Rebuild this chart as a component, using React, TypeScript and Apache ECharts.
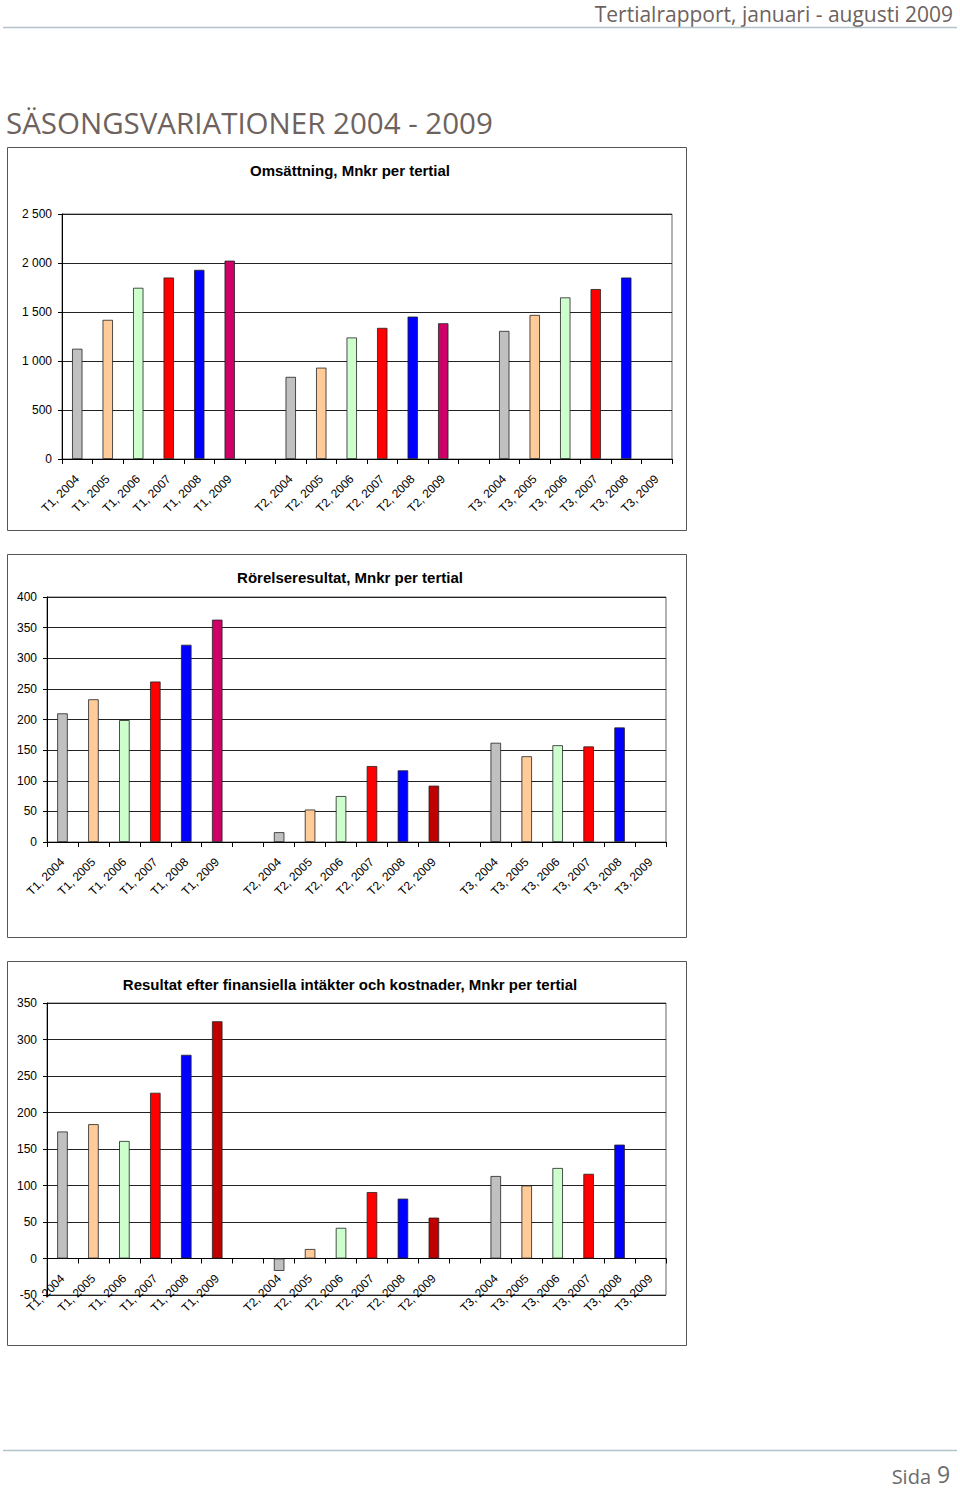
import React, { useEffect, useRef } from 'react';
import * as echarts from 'echarts';

const years = ['2004', '2005', '2006', '2007', '2008', '2009'];
const tertials = ['T1', 'T2', 'T3'];

// Omsättning, Mnkr per tertial
const omsT1 = [1125, 1420, 1747, 1852, 1930, 2024];
const omsT2 = [838, 932, 1240, 1338, 1453, 1385];
const omsT3 = [1307, 1470, 1649, 1734, 1852, null];

// Rörelseresultat, Mnkr per tertial
const rorT1 = [210, 233, 199, 262, 322, 363];
const rorT2 = [16, 53, 75, 124, 117, 92];
const rorT3 = [162, 140, 158, 156, 187, null];

// Resultat efter finansiella intäkter och kostnader, Mnkr per tertial
const resT1 = [174, 184, 161, 227, 279, 325];
const resT2 = [-17, 13, 42, 91, 82, 56];
const resT3 = [113, 100, 124, 116, 156, null];

const yearColors = ['#c0c0c0', '#ffcc99', '#ccffcc', '#ff0000', '#0000ff'];
const oms2009Colors = ['#cc0066', '#cc0066', '#cc0066'];
const ror2009Colors = ['#cc0066', '#c00000', '#c00000'];
const res2009Colors = ['#c00000', '#c00000', '#c00000'];

const chartTitles = [
  'Omsättning, Mnkr per tertial',
  'Rörelseresultat, Mnkr per tertial',
  'Resultat efter finansiella intäkter och kostnader, Mnkr per tertial',
];

const categories: string[] = [];
tertials.forEach((t, ti) => {
  years.forEach((y) => categories.push(`${t}, ${y}`));
  if (ti < tertials.length - 1) categories.push('');
});

function buildData(groups: (number | null)[][], c2009: string[]) {
  const out: any[] = [];
  groups.forEach((g, ti) => {
    g.forEach((v, yi) => {
      const color = yi < 5 ? yearColors[yi] : c2009[ti];
      out.push({ value: v === null ? '-' : v, itemStyle: { color } });
    });
    if (ti < groups.length - 1) out.push({ value: '-' });
  });
  return out;
}

const FONT = '"Liberation Sans Narrow", "Liberation Sans", Arial, sans-serif';
const HFONT = '"Open Sans", "DejaVu Sans", sans-serif';

function fmtThousands(v: number) {
  if (Math.abs(v) >= 1000) {
    const th = Math.floor(v / 1000);
    const rest = String(v % 1000).padStart(3, '0');
    return `${th} ${rest}`;
  }
  return String(v);
}

export default function App() {
  const ref = useRef<HTMLDivElement>(null);
  useEffect(() => {
    if (!ref.current) return;
    const chart = echarts.init(ref.current, undefined, { renderer: 'svg' });
    const grids = [
      { left: 62, top: 214, width: 610, height: 245 },
      { left: 47, top: 597, width: 619, height: 245 },
      { left: 47, top: 1003, width: 619, height: 292 },
    ];
    const yRanges = [
      { min: 0, max: 2500, interval: 500 },
      { min: 0, max: 400, interval: 50 },
      { min: -50, max: 350, interval: 50 },
    ];
    const datasets = [
      buildData([omsT1, omsT2, omsT3], oms2009Colors),
      buildData([rorT1, rorT2, rorT3], ror2009Colors),
      buildData([resT1, resT2, resT3], res2009Colors),
    ];
    const boxes = [
      { y: 147, h: 383 },
      { y: 554, h: 383 },
      { y: 961, h: 384 },
    ];
    const titleY = [170, 577, 984];

    const graphic: any[] = [
      {
        type: 'text',
        x: 953,
        y: 14,
        style: {
          text: 'Tertialrapport, januari - augusti 2009',
          font: `21px ${HFONT}`,
          fill: '#6e625e',
          textAlign: 'right',
          textVerticalAlign: 'middle',
        },
      },
      {
        type: 'line',
        shape: { x1: 3, y1: 27.5, x2: 957, y2: 27.5 },
        style: { stroke: '#b2c3cc', lineWidth: 1.5 },
      },
      {
        type: 'text',
        x: 6,
        y: 122,
        style: {
          text: 'SÄSONGSVARIATIONER 2004 - 2009',
          font: `29.5px ${HFONT}`,
          fill: '#6e625e',
          textAlign: 'left',
          textVerticalAlign: 'middle',
        },
      },
      {
        type: 'line',
        shape: { x1: 3, y1: 1450.5, x2: 957, y2: 1450.5 },
        style: { stroke: '#b2c3cc', lineWidth: 1.5 },
      },
      {
        type: 'text',
        x: 931,
        y: 1476,
        style: {
          text: 'Sida',
          font: `20px ${HFONT}`,
          fill: '#6b6b6b',
          textAlign: 'right',
          textVerticalAlign: 'middle',
        },
      },
      {
        type: 'text',
        x: 937,
        y: 1474,
        style: {
          text: '9',
          font: `23px ${HFONT}`,
          fill: '#6b6b6b',
          textAlign: 'left',
          textVerticalAlign: 'middle',
        },
      },
    ];
    boxes.forEach((b, i) => {
      graphic.push({
        type: 'rect',
        shape: { x: 7.5, y: b.y + 0.5, width: 679, height: b.h },
        style: { stroke: '#555', lineWidth: 1, fill: 'none' },
        z: 0,
      });
      graphic.push({
        type: 'text',
        x: 350,
        y: titleY[i],
        style: {
          text: chartTitles[i],
          font: `bold 15px ${FONT}`,
          fill: '#000',
          textAlign: 'center',
          textVerticalAlign: 'middle',
        },
      });
    });

    const xOffsets = [0, 0, -36.5];

    const option: any = {
      animation: false,
      backgroundColor: '#fff',
      grid: grids.map((g) => ({
        ...g,
        show: true,
        borderColor: '#666',
        borderWidth: 1,
        backgroundColor: 'transparent',
      })),
      xAxis: grids.map((_, i) => ({
        type: 'category',
        gridIndex: i,
        data: categories,
        boundaryGap: true,
        position: 'bottom',
        offset: xOffsets[i],
        axisLine: { show: true, onZero: false, lineStyle: { color: '#000', width: 1 } },
        axisTick: { show: true, alignWithLabel: false, interval: 0, length: 5, lineStyle: { color: '#000' } },
        axisLabel: {
          interval: 0,
          rotate: 45,
          margin: 18,
          fontSize: 12,
          fontFamily: FONT,
          color: '#000',
        },
        splitLine: { show: false },
      })),
      yAxis: yRanges.map((r, i) => ({
        type: 'value',
        gridIndex: i,
        min: r.min,
        max: r.max,
        interval: r.interval,
        axisLine: { show: true, lineStyle: { color: '#000', width: 1 } },
        axisTick: { show: true, length: 4, inside: false, lineStyle: { color: '#000' } },
        axisLabel: {
          margin: 10,
          fontSize: 12,
          fontFamily: FONT,
          color: '#000',
          formatter: (v: number) => fmtThousands(v),
        },
        splitLine: { show: true, lineStyle: { color: '#222', width: 1 } },
      })),
      series: datasets.map((d, i) => ({
        type: 'bar',
        xAxisIndex: i,
        yAxisIndex: i,
        data: d,
        barWidth: '34%',
        itemStyle: { borderColor: '#222', borderWidth: 0.8 },
      })),
      graphic,
    };
    chart.setOption(option);
    return () => chart.dispose();
  }, []);
  return (
    <div
      ref={ref}
      style={{ position: 'absolute', left: 0, top: 0, width: 960, height: 1489, background: '#fff' }}
    />
  );
}
